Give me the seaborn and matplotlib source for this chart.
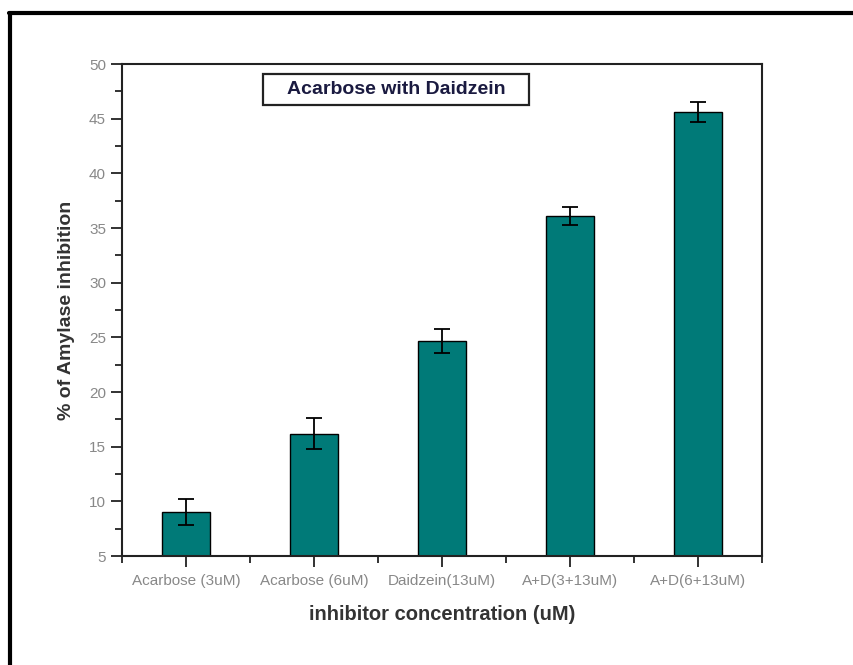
import numpy as np
import pandas as pd
import matplotlib
matplotlib.use("Agg")
import matplotlib.pyplot as plt
import seaborn as sns
from matplotlib.ticker import MultipleLocator, FixedLocator
from matplotlib.lines import Line2D
from matplotlib.patches import Rectangle

# data
groups = ['Acarbose (3uM)', 'Acarbose (6uM)', 'Daidzein(13uM)', 'A+D(3+13uM)', 'A+D(6+13uM)']
inhibition = [9.0, 16.2, 24.7, 36.1, 45.6]
errors = [1.2, 1.4, 1.1, 0.8, 0.9]

df = pd.DataFrame({'group': groups, 'inhibition': inhibition})

sns.set_style('white')
plt.rcParams['font.family'] = ['Liberation Sans', 'DejaVu Sans']

fig = plt.figure(figsize=(8.54, 6.65), dpi=100)
# axes box: x 122..762, y 64..556 (pixels)
ax = fig.add_axes([122 / 854, 1 - 556 / 665, 640 / 854, 492 / 665])

sns.barplot(data=df, x='group', y='inhibition', color='#007a78', saturation=1,
            width=0.38, edgecolor='black', linewidth=1.0, ax=ax)
ax.errorbar(range(len(groups)), inhibition, yerr=errors, fmt='none',
            ecolor='black', elinewidth=1.3, capsize=6, capthick=1.3)

ax.set_xlim(-0.5, 4.5)
ax.set_ylim(5, 50)
ax.yaxis.set_major_locator(MultipleLocator(5))
ax.yaxis.set_minor_locator(MultipleLocator(2.5))
ax.xaxis.set_minor_locator(FixedLocator([-0.5, 0.5, 1.5, 2.5, 3.5, 4.5]))

for s in ax.spines.values():
    s.set_visible(True)
    s.set_color('#222222')
    s.set_linewidth(1.5)

ax.tick_params(axis='both', which='major', direction='out', length=8, width=1.3,
               color='#222222', labelsize=11, labelcolor='#888888')
ax.tick_params(axis='both', which='minor', direction='out', length=5, width=1.3,
               color='#222222')
ax.tick_params(axis='x', which='major', pad=5)
ax.tick_params(bottom=True, left=True, top=False, right=False)
ax.tick_params(which='minor', bottom=True, left=True, top=False, right=False)

ax.set_xlabel('inhibitor concentration (uM)', fontsize=14.5, fontweight='bold',
              color='#333333', labelpad=12)
ax.set_ylabel('% of Amylase inhibition', fontsize=14, fontweight='bold',
              color='#333333', labelpad=10)

# boxed title inside the plot
fig.add_artist(Rectangle((263 / 854, 1 - 105 / 665), 266 / 854, 31 / 665,
                         transform=fig.transFigure, facecolor='white',
                         edgecolor='#222222', linewidth=1.6))
fig.text(396 / 854, 1 - 90 / 665, 'Acarbose with Daidzein', ha='center', va='center',
         fontsize=14, fontweight='bold', color='#1a1a40')

# outer frame (right and bottom edges fall outside the picture)
fig.add_artist(Line2D([9 / 854, 1.0], [1 - 13 / 665, 1 - 13 / 665],
                      transform=fig.transFigure, color='black', linewidth=3))
fig.add_artist(Line2D([10 / 854, 10 / 854], [0.0, 1 - 13 / 665],
                      transform=fig.transFigure, color='black', linewidth=3))

fig.savefig('out.png', dpi=100)
